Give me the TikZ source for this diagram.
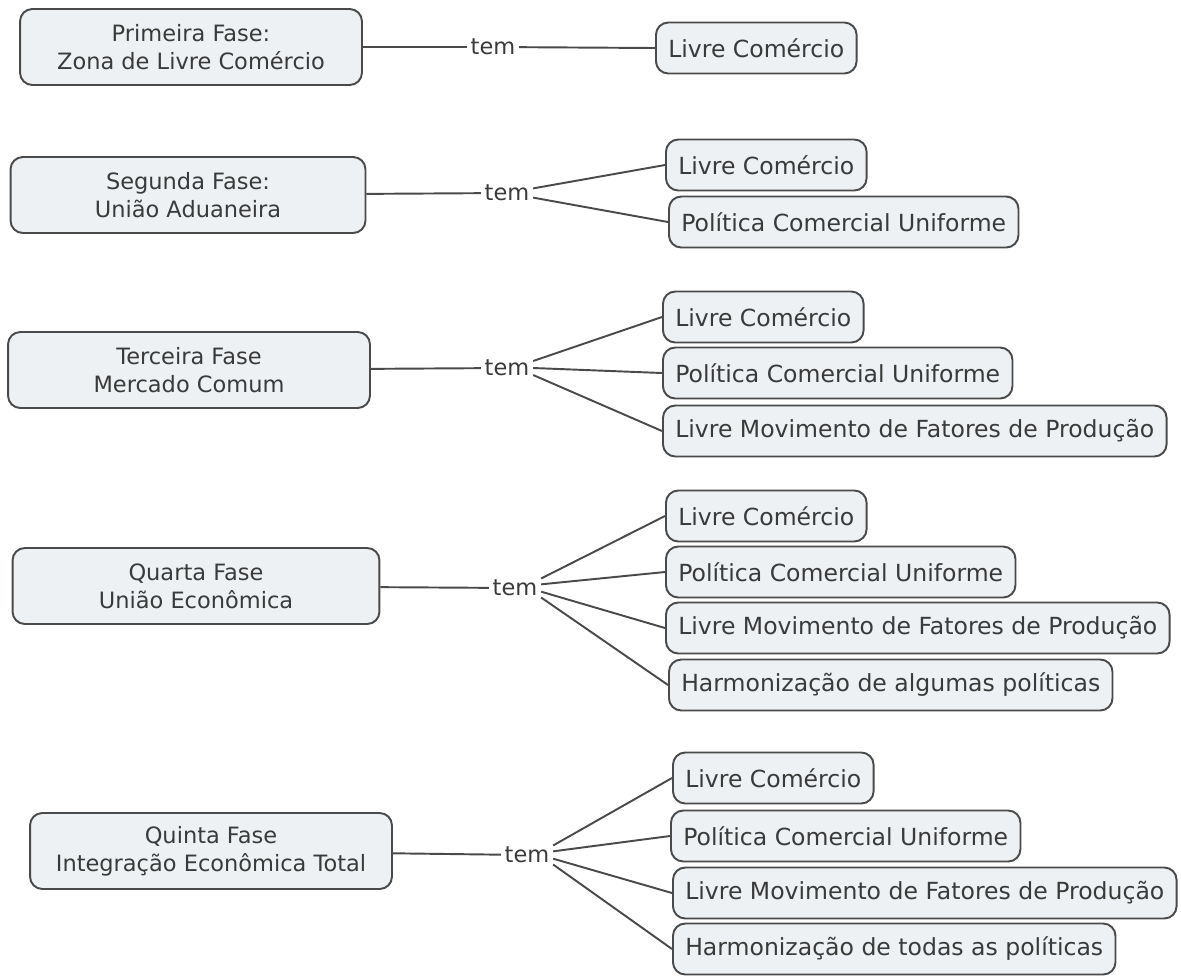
\documentclass[tikz,border=0pt]{standalone}
\usepackage{fontspec}
\setmainfont{DejaVu Sans}
\definecolor{linegray}{HTML}{4A4A4A}
\definecolor{boxfill}{HTML}{EDF1F3}
\definecolor{textgray}{HTML}{3A3A3A}
\tikzset{
	fase/.style={draw=linegray,fill=boxfill,rounded corners=7pt,line width=1.1pt,minimum height=1.52cm,align=center,text=textgray,font=\fontsize{12.8}{16}\selectfont},
	item/.style={draw=linegray,fill=boxfill,rounded corners=7pt,line width=1.1pt,minimum height=1.02cm,inner xsep=7pt,anchor=west,text=textgray,font=\fontsize{13.4}{15}\selectfont},
	rel/.style={text=textgray,inner sep=2pt,font=\fontsize{12.8}{15}\selectfont},
	link/.style={draw=linegray,line width=1.1pt}
}
\begin{document}
\begin{tikzpicture}[x=0.02cm,y=-0.02cm]
	\useasboundingbox[fill=white] (0,0) rectangle (1181,975);

	%Primeira Fase
	\node[fase,minimum width=6.84cm] at (191,47) (f1) {Primeira Fase:\\Zona de Livre Comércio};
	\node[rel] at (493,47) (t1) {tem};
	\node[item] at (655,48) (f1a) {Livre Comércio};
	\draw[link] (f1) -- (t1);
	\draw[link] (t1) -- (f1a.west);

	%Segunda Fase
	\node[fase,minimum width=7.1cm] at (188,195) (f2) {Segunda Fase:\\União Aduaneira};
	\node[rel] at (507,193) (t2) {tem};
	\node[item] at (665,165) (f2a) {Livre Comércio};
	\node[item] at (668,222) (f2b) {Política Comercial Uniforme};
	\draw[link] (f2) -- (t2);
	\draw[link] (t2.10) -- (f2a.west);
	\draw[link] (t2.-10) -- (f2b.west);

	%Terceira Fase
	\node[fase,minimum width=7.24cm] at (189,370) (f3) {Terceira Fase\\Mercado Comum};
	\node[rel] at (507,368) (t3) {tem};
	\node[item] at (662,317) (f3a) {Livre Comércio};
	\node[item] at (662,373) (f3b) {Política Comercial Uniforme};
	\node[item] at (662,431) (f3c) {Livre Movimento de Fatores de Produção};
	\draw[link] (f3) -- (t3);
	\draw[link] (t3.15) -- (f3a.west);
	\draw[link] (t3.0) -- (f3b.west);
	\draw[link] (t3.-15) -- (f3c.west);

	%Quarta Fase
	\node[fase,minimum width=7.34cm] at (196,586) (f4) {Quarta Fase\\União Econômica};
	\node[rel] at (515,588) (t4) {tem};
	\node[item] at (665,516) (f4a) {Livre Comércio};
	\node[item] at (665,572) (f4b) {Política Comercial Uniforme};
	\node[item] at (665,628) (f4c) {Livre Movimento de Fatores de Produção};
	\node[item] at (668,685) (f4d) {Harmonização de algumas políticas};
	\draw[link] (f4) -- (t4);
	\draw[link] (t4.20) -- (f4a.west);
	\draw[link] (t4.8) -- (f4b.west);
	\draw[link] (t4.-8) -- (f4c.west);
	\draw[link] (t4.-20) -- (f4d.west);

	%Quinta Fase
	\node[fase,minimum width=7.24cm] at (211,851) (f5) {Quinta Fase\\Integração Econômica Total};
	\node[rel] at (527,855) (t5) {tem};
	\node[item] at (672,778) (f5a) {Livre Comércio};
	\node[item] at (670,836) (f5b) {Política Comercial Uniforme};
	\node[item] at (672,893) (f5c) {Livre Movimento de Fatores de Produção};
	\node[item] at (672,949) (f5d) {Harmonização de todas as políticas};
	\draw[link] (f5) -- (t5);
	\draw[link] (t5.20) -- (f5a.west);
	\draw[link] (t5.8) -- (f5b.west);
	\draw[link] (t5.-8) -- (f5c.west);
	\draw[link] (t5.-20) -- (f5d.west);
\end{tikzpicture}
\end{document}
